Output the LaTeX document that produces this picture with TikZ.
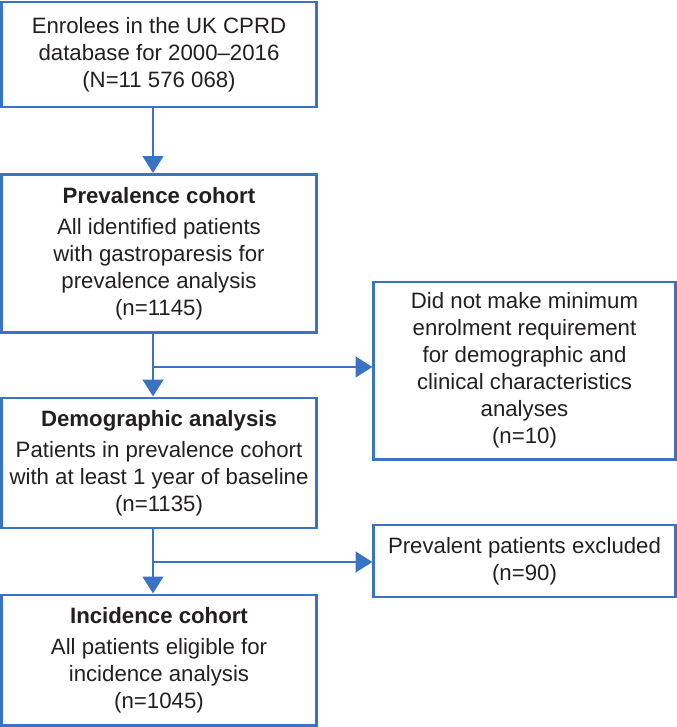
\documentclass[tikz,border=0pt]{standalone}
\usepackage{fontspec}
\setmainfont{Liberation Sans}
\usepackage{tikz}
\usetikzlibrary{arrows.meta,positioning,calc}
\usepackage{xcolor}
\definecolor{flowblue}{RGB}{59,115,196}
\definecolor{flowtext}{RGB}{35,31,32}
\tikzstyle{arrow} = [line width=2.1pt,-{Triangle[length=12pt,width=14.5pt]},color=flowblue]
\tikzstyle{flowbox} = [rectangle, inner sep=0pt, text centered, align=center, draw=flowblue, line width=2.1pt, text=flowtext, font=\fontsize{15.8}{19.2}\selectfont]

\begin{document}
\begin{tikzpicture}[x=0.025cm, y=-0.025cm]
    \useasboundingbox (0,0) rectangle (676,727);

    % Main column
    \node[flowbox, minimum width=7.85cm, minimum height=2.625cm] (enrol) at (159, 54.5)
        {Enrolees in the UK CPRD\\database for 2000--2016\\(N=11 576 068)};
    \node[flowbox, minimum width=7.85cm, minimum height=3.95cm] (prev) at (159, 253.5)
        {\textbf{Prevalence cohort}\\[3pt]All identified patients\\with gastroparesis for\\prevalence analysis\\(n=1145)};
    \node[flowbox, minimum width=7.85cm, minimum height=3.25cm] (demo) at (159, 463)
        {\textbf{Demographic analysis}\\[3pt]Patients in prevalence cohort\\with at least 1 year of baseline\\(n=1135)};
    \node[flowbox, minimum width=7.85cm, minimum height=3.25cm] (inc) at (159, 660)
        {\textbf{Incidence cohort}\\[3pt]All patients eligible for\\incidence analysis\\(n=1045)};

    % Exclusions
    \node[flowbox, minimum width=7.525cm, minimum height=4.425cm] (minenrol) at (524.5, 370.5)
        {Did not make minimum\\enrolment requirement\\for demographic and\\clinical characteristics\\analyses\\(n=10)};
    \node[flowbox, minimum width=7.525cm, minimum height=1.8cm] (prevexcl) at (524.5, 561)
        {Prevalent patients excluded\\(n=90)};

    % Split points
    \coordinate (split1) at (153, 367);
    \coordinate (split2) at (153, 562);

    % Connections
    \draw[arrow] (enrol.south -| split1) -- (prev.north -| split1);
    \draw[arrow] (prev.south -| split1) -- (demo.north -| split1);
    \draw[arrow] (demo.south -| split2) -- (inc.north -| split2);

    % Side branches
    \draw[arrow] (split1) -- (split1 -| minenrol.west);
    \draw[arrow] (split2) -- (split2 -| prevexcl.west);
\end{tikzpicture}
\end{document}
